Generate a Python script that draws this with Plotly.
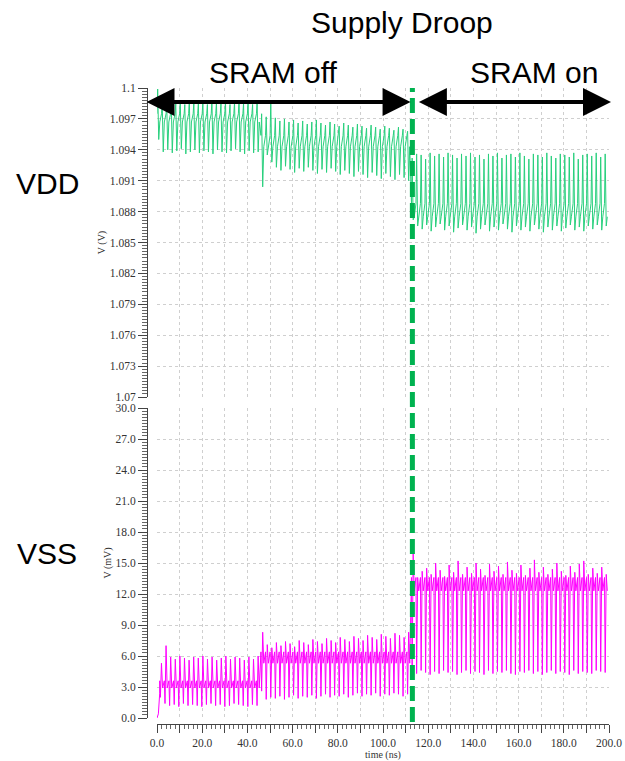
import plotly.graph_objects as go

# ---------------- data ----------------
# phase boundaries (ns)
phase_a_vdd = (0.0, 46.0)
phase_a_vss = (1.2, 46.0)
phase_b = (46.0, 112.6)
phase_c = (112.6, 200.0)
droop_t = 113.0

# VDD (V): per-cycle spike peaks / troughs and dense band (top, bottom)
vdd_a_hi = [1.0999, 1.0986, 1.0984, 1.0988, 1.0985, 1.0987, 1.0984, 1.0988, 1.0986, 1.0985, 1.0987,
            1.0984, 1.0988, 1.0986, 1.0985, 1.0987, 1.0984, 1.0986, 1.0988, 1.0985, 1.0987, 1.0984, 1.0986]
vdd_a_lo = [1.0950, 1.0938, 1.0940, 1.0937, 1.0939, 1.0941, 1.0936, 1.0938, 1.0940, 1.0937, 1.0939,
            1.0938, 1.0936, 1.0940, 1.0938, 1.0937, 1.0939, 1.0941, 1.0938, 1.0936, 1.0939, 1.0937, 1.0938]
vdd_a_band = (1.0975, 1.0967)
vdd_b_hi = [1.0975, 1.0972, 1.0987, 1.0971, 1.0968, 1.0970, 1.0967, 1.0969, 1.0966, 1.0968, 1.0965,
            1.0967, 1.0969, 1.0966, 1.0964, 1.0967, 1.0965, 1.0963, 1.0966, 1.0964, 1.0962, 1.0965,
            1.0963, 1.0961, 1.0964, 1.0962, 1.0960, 1.0963, 1.0961, 1.0959, 1.0962, 1.0960, 1.0958]
vdd_b_lo = [1.0904, 1.0935, 1.0928, 1.0923, 1.0920, 1.0924, 1.0921, 1.0918, 1.0922, 1.0919, 1.0923,
            1.0920, 1.0917, 1.0921, 1.0918, 1.0922, 1.0919, 1.0916, 1.0920, 1.0917, 1.0914, 1.0919,
            1.0916, 1.0913, 1.0918, 1.0915, 1.0912, 1.0917, 1.0914, 1.0911, 1.0916, 1.0913, 1.0910]
vdd_b_band = (1.0954, 1.0943)
vdd_c_hi = [1.0932, 1.0936, 1.0935, 1.0931, 1.0937, 1.0934, 1.0936, 1.0933, 1.0937, 1.0935, 1.0932,
            1.0936, 1.0934, 1.0937, 1.0933, 1.0935, 1.0931, 1.0936, 1.0934, 1.0937, 1.0932, 1.0935,
            1.0936, 1.0933, 1.0937, 1.0934, 1.0931, 1.0936, 1.0935, 1.0933, 1.0937, 1.0934, 1.0932,
            1.0936, 1.0935, 1.0933, 1.0937, 1.0931, 1.0935, 1.0936, 1.0934, 1.0937, 1.0933, 1.0936]
vdd_c_lo = [1.0872, 1.0866, 1.0863, 1.0867, 1.0861, 1.0865, 1.0868, 1.0862, 1.0866, 1.0860, 1.0864,
            1.0867, 1.0862, 1.0865, 1.0859, 1.0863, 1.0867, 1.0861, 1.0865, 1.0862, 1.0868, 1.0863,
            1.0860, 1.0866, 1.0862, 1.0865, 1.0861, 1.0867, 1.0863, 1.0860, 1.0865, 1.0862, 1.0866,
            1.0861, 1.0864, 1.0867, 1.0862, 1.0865, 1.0861, 1.0866, 1.0863, 1.0867, 1.0862, 1.0866]
vdd_c_band = (1.0888, 1.0875)

# VSS (mV)
vss_init_t = [0.0, 0.6, 1.2]
vss_init_v = [0.0, 0.4, 2.4]
vss_a_hi = [5.3, 7.0, 5.9, 5.7, 6.0, 5.8, 5.6, 5.9, 5.8, 6.0, 5.7, 5.9, 5.6, 5.8, 6.0, 5.7, 5.9,
            5.8, 5.6, 5.9, 5.7, 6.0]
vss_a_lo = [2.0, 1.4, 1.2, 1.3, 1.1, 1.4, 1.2, 1.3, 1.2, 1.1, 1.3, 1.4, 1.2, 1.3, 1.1, 1.2, 1.4,
            1.3, 1.2, 1.1, 1.3, 1.2]
vss_a_band = (3.6, 2.9)
vss_b_hi = [8.3, 7.1, 6.8, 7.3, 7.0, 7.4, 7.2, 6.9, 7.5, 7.3, 7.1, 7.6, 7.4, 7.2, 7.7, 7.5, 7.3,
            7.8, 7.6, 7.4, 7.9, 7.7, 7.5, 8.0, 7.8, 7.6, 8.1, 7.9, 7.7, 8.2, 8.0, 7.8, 8.3]
vss_b_lo = [2.6, 1.8, 2.0, 1.9, 2.1, 1.8, 2.0, 2.2, 1.9, 2.1, 2.0, 2.2, 1.9, 2.1, 2.3, 2.0, 2.2,
            2.1, 2.3, 2.0, 2.2, 2.4, 2.1, 2.3, 2.2, 2.4, 2.1, 2.3, 2.2, 2.4, 2.3, 2.1, 2.3]
vss_b_band = (6.4, 5.3)
vss_c_hi = [15.9, 13.6, 14.2, 14.5, 13.9, 15.0, 14.3, 13.7, 14.8, 14.1, 15.2, 13.9, 14.6, 14.0,
            15.0, 14.4, 13.8, 14.9, 14.2, 14.7, 13.9, 15.1, 14.3, 14.0, 14.8, 13.8, 14.5, 15.3,
            14.1, 14.6, 13.9, 14.4, 15.0, 14.2, 13.8, 14.7, 14.1, 14.9, 15.2, 13.9, 14.5, 14.0,
            14.6, 13.9]
vss_c_lo = [4.5, 4.3, 4.6, 4.4, 4.2, 4.5, 4.3, 4.6, 4.4, 4.5, 4.2, 4.4, 4.6, 4.3, 4.5, 4.4, 4.2,
            4.6, 4.3, 4.5, 4.4, 4.6, 4.3, 4.2, 4.5, 4.4, 4.6, 4.3, 4.5, 4.2, 4.4, 4.6, 4.3, 4.5,
            4.4, 4.2, 4.6, 4.3, 4.5, 4.4, 4.3, 4.6, 4.5, 4.4]
vss_c_band = (13.6, 12.3)

vdd_tick_vals = [1.07, 1.073, 1.076, 1.079, 1.082, 1.085, 1.088, 1.091, 1.094, 1.097, 1.1]
vdd_tick_text = ["1.07", "1.073", "1.076", "1.079", "1.082", "1.085", "1.088", "1.091", "1.094", "1.097", "1.1"]
vss_tick_vals = [0, 3, 6, 9, 12, 15, 18, 21, 24, 27, 30]
vss_tick_text = ["0.0", "3.0", "6.0", "9.0", "12.0", "15.0", "18.0", "21.0", "24.0", "27.0", "30.0"]
x_tick_vals = [0, 10, 20, 30, 40, 50, 60, 70, 80, 90, 100, 110, 120, 130, 140, 150, 160, 170, 180, 190, 200]
x_tick_text = ["0.0", "", "20.0", "", "40.0", "", "60.0", "", "80.0", "", "100.0", "", "120.0", "",
               "140.0", "", "160.0", "", "180.0", "", "200.0"]

# ---------------- build the waveforms from the per-cycle readings ----------------
def build(phases, first_is_hi, t_init=None, v_init=None):
    ts = list(t_init) if t_init else []
    vs = list(v_init) if v_init else []
    frac = [0.0, 0.15, 0.38, 0.62]
    for (t0, t1), hi, lo, band in phases:
        n = min(len(hi), len(lo))
        per = (t1 - t0) / n
        for k in range(n):
            a, b = (hi[k], lo[k]) if first_is_hi else (lo[k], hi[k])
            vals = [band[0], a, b, band[1]]
            for f, v in zip(frac, vals):
                ts.append(t0 + (k + f) * per)
                vs.append(v)
    return ts, vs

vdd_t, vdd_v = build([(phase_a_vdd, vdd_a_hi, vdd_a_lo, vdd_a_band),
                      (phase_b, vdd_b_hi, vdd_b_lo, vdd_b_band),
                      (phase_c, vdd_c_hi, vdd_c_lo, vdd_c_band)], True)
vss_t, vss_v = build([(phase_a_vss, vss_a_hi, vss_a_lo, vss_a_band),
                      (phase_b, vss_b_hi, vss_b_lo, vss_b_band),
                      (phase_c, vss_c_hi, vss_c_lo, vss_c_band)], False, vss_init_t, vss_init_v)

W, H = 625, 761
def px(x):
    return x / W
def py(y):
    return 1 - y / H

fig = go.Figure()
fig.add_trace(go.Scatter(x=vdd_t, y=vdd_v, mode="lines", xaxis="x2", yaxis="y2",
                         line=dict(color="rgb(40,208,125)", width=1), showlegend=False))
fig.add_trace(go.Scatter(x=vss_t, y=vss_v, mode="lines", xaxis="x", yaxis="y",
                         line=dict(color="rgb(255,0,255)", width=1), showlegend=False))

serif = dict(family="Liberation Serif", size=11.5, color="#333")
title_font = dict(family="Liberation Serif", size=10, color="#333")
grid = dict(showgrid=True, gridcolor="#cfcfcf", griddash="dot", gridwidth=1, zeroline=False,
            automargin=False)
xdom = [px(157), px(609)]

fig.update_layout(
    width=W, height=H, margin=dict(l=0, r=0, t=0, b=0, pad=0, autoexpand=False),
    plot_bgcolor="white", paper_bgcolor="white",
    xaxis=dict(domain=xdom, range=[0, 200], anchor="free", position=py(724),
               tickvals=x_tick_vals, ticktext=x_tick_text, ticks="outside", ticklen=8,
               tickcolor="#444", showline=True, linecolor="#444", linewidth=1,
               minor=dict(dtick=2, ticklen=4, tickcolor="#666", showgrid=False, ticks="outside"),
               tickfont=serif, title=dict(text="time (ns)", font=title_font, standoff=2),
               **grid),
    xaxis2=dict(domain=xdom, range=[0, 200], anchor="y2", matches="x",
                tickvals=x_tick_vals, showticklabels=False, ticks="", showline=False, **grid),
    yaxis=dict(domain=[py(718), py(408)], range=[0, 30], anchor="free", position=px(147),
               tickvals=vss_tick_vals, ticktext=vss_tick_text, ticks="outside", ticklen=9,
               tickcolor="#444", showline=True, linecolor="#444", linewidth=1,
               minor=dict(dtick=0.3, ticklen=5, tickcolor="#666", showgrid=False, ticks="outside"),
               tickfont=serif, title=dict(text="V (mV)", font=title_font, standoff=1),
               **grid),
    yaxis2=dict(domain=[py(397), py(88)], range=[1.07, 1.1], anchor="free", position=px(147),
                tickvals=vdd_tick_vals, ticktext=vdd_tick_text, ticks="outside", ticklen=9,
                tickcolor="#444", showline=True, linecolor="#444", linewidth=1,
                minor=dict(dtick=0.0003, tick0=1.07, ticklen=5, tickcolor="#666", showgrid=False, ticks="outside"),
                tickfont=serif, title=dict(text="V (V)", font=title_font, standoff=1),
                **grid),
)

# green dashed "supply droop" marker
fig.add_shape(type="line", xref="x", yref="paper", x0=droop_t, x1=droop_t, y0=py(722), y1=py(88),
              line=dict(color="rgb(0,178,80)", width=5, dash="15px,6px"))

sans = "Liberation Sans"
def label(text, x, y):
    fig.add_annotation(text=text, xref="paper", yref="paper", x=px(x), y=py(y), showarrow=False,
                       font=dict(family=sans, size=30, color="black"), xanchor="center", yanchor="middle")

label("Supply Droop", 402, 22)
label("SRAM off", 273, 73)
label("SRAM on", 534, 73)
label("VDD", 47, 183)
label("VSS", 47, 553)

arrow_y = 1.09864
for x_head, x_tail in [(112.2, -5.3), (200.9, 115.2)]:
    fig.add_annotation(x=x_head, y=arrow_y, ax=x_tail, ay=arrow_y, xref="x2", yref="y2",
                       axref="x2", ayref="y2", text="", showarrow=True, arrowside="end+start",
                       arrowhead=2, startarrowhead=2, arrowsize=1.4, startarrowsize=1.4,
                       arrowwidth=4, arrowcolor="black")

fig.write_html("out.html")
